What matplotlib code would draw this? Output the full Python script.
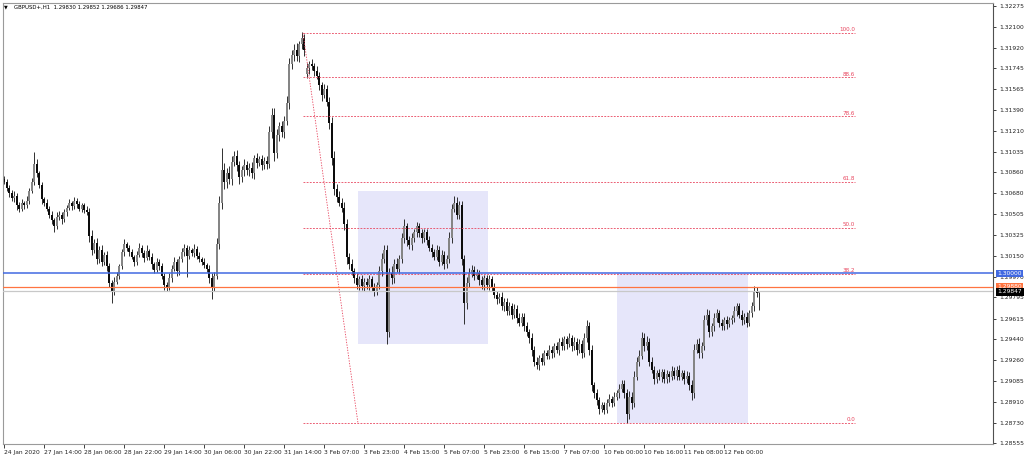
import matplotlib
matplotlib.use("Agg")
import matplotlib.pyplot as plt
from matplotlib.patches import Rectangle

# --- data (GBPUSD, H1, 24 Jan - 12 Feb 2020) ---
TITLE = "GBPUSD+,H1  1.29830 1.29852 1.29686 1.29847"

FIRST_OPEN = 1.3080
GAP_OPENS = {121: 1.3170}  # Monday open gap

CLOSE = [
    # 24 Jan
    1.3078, 1.3073,
    # 27 Jan
    1.3068, 1.3064, 1.3066, 1.3058, 1.3055, 1.3060, 1.3058, 1.3062, 1.3070, 1.3078, 1.3093, 1.3085,
    1.3075, 1.3063, 1.3060, 1.3055, 1.3050, 1.3045, 1.3040, 1.3048, 1.3050, 1.3046, 1.3052, 1.3056,
    # 28 Jan
    1.3060, 1.3057, 1.3062, 1.3059, 1.3055, 1.3058, 1.3054, 1.3052, 1.3032, 1.3020, 1.3026, 1.3012,
    1.3020, 1.3010, 1.3016, 1.3006, 1.2992, 1.2985, 1.2993, 1.2998, 1.3006, 1.3018, 1.3025, 1.3022,
    # 29 Jan
    1.3018, 1.3014, 1.3010, 1.3016, 1.3022, 1.3017, 1.3013, 1.3019, 1.3014, 1.3008, 1.3003, 1.3010,
    1.3006, 1.2998, 1.2990, 1.2988, 1.2996, 1.3004, 1.3010, 1.3002, 1.3012, 1.3018, 1.3022, 1.3015,
    # 30 Jan
    1.3020, 1.3017, 1.3021, 1.3015, 1.3012, 1.3010, 1.3007, 1.3004, 1.2996, 1.2988, 1.2998, 1.3025,
    1.3060, 1.3088, 1.3078, 1.3085, 1.3080, 1.3095, 1.3100, 1.3092, 1.3082, 1.3088, 1.3092, 1.3088,
    # 31 Jan
    1.3090, 1.3085, 1.3098, 1.3094, 1.3097, 1.3092, 1.3096, 1.3093, 1.3120, 1.3135, 1.3102, 1.3118,
    1.3125, 1.3120, 1.3130, 1.3145, 1.3178, 1.3186, 1.3190, 1.3185, 1.3195, 1.3200, 1.3190,
    # 3 Feb
    1.3175, 1.3178, 1.3176, 1.3172, 1.3168, 1.3160, 1.3152, 1.3157, 1.3146, 1.3128, 1.3098, 1.3072,
    1.3065, 1.3060, 1.3056, 1.3042, 1.3014, 1.3008, 1.3002, 1.2996, 1.2990, 1.2995, 1.2989, 1.2993,
    # 4 Feb
    1.2990, 1.2995, 1.2988, 1.2985, 1.2990, 1.3002, 1.3012, 1.3020, 1.2950, 1.3000, 1.2996, 1.3008,
    1.3004, 1.3012, 1.3030, 1.3040, 1.3028, 1.3024, 1.3030, 1.3035, 1.3040, 1.3034, 1.3030, 1.3035,
    # 5 Feb
    1.3028, 1.3022, 1.3018, 1.3014, 1.3020, 1.3010, 1.3016, 1.3008, 1.3012, 1.3030, 1.3055, 1.3060,
    1.3050, 1.3058, 1.3012, 1.2975, 1.2992, 1.3000, 1.3003, 1.2998, 1.3000, 1.2994, 1.2990, 1.2996,
    # 6 Feb
    1.2990, 1.2995, 1.2988, 1.2982, 1.2978, 1.2980, 1.2972, 1.2976, 1.2968, 1.2972, 1.2965, 1.2970,
    1.2962, 1.2958, 1.2963, 1.2955, 1.2950, 1.2945, 1.2935, 1.2925, 1.2922, 1.2928, 1.2925, 1.2932,
    # 7 Feb
    1.2930, 1.2935, 1.2932, 1.2938, 1.2935, 1.2942, 1.2938, 1.2944, 1.2940, 1.2945, 1.2938, 1.2942,
    1.2935, 1.2940, 1.2932, 1.2945, 1.2955, 1.2935, 1.2905, 1.2898, 1.2892, 1.2885, 1.2888,
    # 10 Feb
    1.2884, 1.2890, 1.2893, 1.2890, 1.2895, 1.2898, 1.2902, 1.2906, 1.2898, 1.2880, 1.2895, 1.2890,
    1.2912, 1.2925, 1.2930, 1.2945, 1.2938, 1.2942, 1.2925, 1.2918, 1.2910, 1.2915, 1.2912, 1.2916,
    # 11 Feb
    1.2910, 1.2914, 1.2912, 1.2917, 1.2913, 1.2918, 1.2912, 1.2915, 1.2910, 1.2913, 1.2905, 1.2898,
    1.2935, 1.2940, 1.2932, 1.2938, 1.2960, 1.2965, 1.2950, 1.2955, 1.2962, 1.2966, 1.2958, 1.2955,
    # 12 Feb
    1.2960, 1.2957, 1.2960, 1.2962, 1.2968, 1.2972, 1.2965, 1.2960, 1.2963, 1.2958, 1.2966, 1.2972,
    1.2985, 1.2983, 1.29847,
]

# wick lengths above / below the body, in pips
WICK_UP = [
    3, 2,
    2, 3, 4, 2, 3, 3, 2, 4, 3, 3, 10, 4, 2, 3, 2, 3, 2, 3, 2, 4, 3, 2, 3, 2,
    3, 2, 3, 2, 3, 2, 2, 3, 4, 5, 3, 4, 3, 4, 2, 3, 3, 2, 4, 3, 2, 3, 4, 2,
    2, 3, 2, 3, 4, 2, 3, 5, 2, 3, 2, 3, 2, 3, 2, 3, 4, 3, 4, 2, 3, 4, 3, 2,
    3, 2, 4, 2, 3, 2, 3, 2, 3, 4, 3, 5, 6, 19, 6, 5, 6, 5, 4, 5, 4, 3, 5, 4,
    4, 5, 3, 4, 3, 4, 3, 4, 5, 6, 6, 5, 4, 5, 4, 6, 5, 4, 5, 6, 3, 5, 4,
    4, 3, 4, 3, 4, 3, 3, 4, 3, 4, 5, 6, 4, 5, 4, 5, 4, 3, 4, 3, 4, 3, 4, 3,
    3, 4, 3, 4, 3, 4, 5, 4, 4, 5, 6, 4, 5, 4, 4, 6, 3, 4, 4, 3, 4, 3, 4, 3,
    3, 4, 3, 3, 4, 3, 4, 3, 4, 5, 4, 6, 5, 4, 4, 4, 5, 5, 4, 3, 4, 3, 4, 3,
    3, 4, 3, 4, 3, 3, 4, 3, 3, 4, 3, 4, 3, 4, 3, 3, 4, 3, 4, 3, 4, 3, 4, 3,
    3, 4, 3, 3, 4, 3, 4, 3, 3, 4, 3, 4, 3, 4, 3, 4, 5, 4, 4, 3, 4, 3, 3,
    3, 3, 4, 3, 4, 3, 4, 3, 3, 4, 5, 4, 5, 4, 5, 5, 4, 5, 3, 4, 3, 3, 4, 3,
    3, 4, 3, 4, 3, 3, 4, 3, 3, 4, 3, 4, 5, 4, 5, 4, 5, 5, 4, 3, 4, 4, 3, 3,
    3, 4, 3, 3, 4, 3, 3, 4, 3, 4, 3, 4, 4, 3, 0.5,
]
WICK_DN = [
    2, 3,
    3, 2, 3, 4, 3, 2, 3, 2, 3, 2, 3, 3, 2, 4, 3, 2, 3, 3, 5, 2, 3, 4, 2, 3,
    2, 3, 2, 3, 2, 3, 3, 2, 5, 4, 3, 4, 3, 4, 3, 4, 4, 10, 3, 2, 3, 2, 3, 3,
    3, 2, 4, 3, 2, 3, 3, 2, 3, 4, 3, 2, 3, 3, 4, 3, 2, 3, 2, 4, 3, 2, 3, 18,
    3, 2, 3, 3, 2, 3, 2, 3, 4, 10, 3, 3, 4, 5, 6, 5, 4, 5, 4, 5, 6, 4, 5, 4,
    5, 4, 5, 4, 3, 4, 3, 4, 3, 5, 6, 4, 5, 4, 5, 4, 5, 4, 5, 4, 5, 4, 5,
    4, 5, 3, 4, 3, 4, 5, 3, 4, 5, 6, 5, 4, 3, 4, 5, 6, 4, 3, 4, 3, 4, 3, 4,
    3, 4, 3, 4, 3, 3, 4, 3, 10, 4, 5, 4, 3, 4, 3, 4, 5, 3, 4, 3, 4, 3, 4, 3,
    4, 3, 4, 3, 3, 4, 3, 4, 3, 3, 4, 3, 4, 4, 5, 18, 5, 4, 3, 4, 3, 4, 3, 4,
    3, 4, 3, 3, 4, 3, 3, 4, 3, 3, 4, 3, 4, 3, 3, 4, 3, 4, 5, 4, 3, 4, 3, 3,
    3, 3, 4, 3, 3, 4, 3, 3, 4, 3, 4, 3, 4, 3, 4, 3, 3, 4, 5, 4, 4, 5, 3,
    4, 3, 3, 4, 3, 3, 4, 3, 4, 7, 4, 5, 4, 3, 4, 3, 4, 3, 4, 3, 4, 3, 3, 4,
    3, 3, 4, 3, 3, 4, 3, 3, 4, 3, 4, 6, 4, 3, 4, 4, 3, 4, 4, 3, 4, 3, 4, 3,
    3, 4, 3, 3, 3, 4, 3, 4, 3, 4, 3, 3, 4, 3, 14.4,
]

TIME_LABELS = [
    "24 Jan 2020", "27 Jan 14:00", "28 Jan 06:00", "28 Jan 22:00", "29 Jan 14:00",
    "30 Jan 06:00", "30 Jan 22:00", "31 Jan 14:00", "3 Feb 07:00", "3 Feb 23:00",
    "4 Feb 15:00", "5 Feb 07:00", "5 Feb 23:00", "6 Feb 15:00", "7 Feb 07:00",
    "10 Feb 00:00", "10 Feb 16:00", "11 Feb 08:00", "12 Feb 00:00",
]
BARS_PER_LABEL = 16

PRICE_TICKS = [
    1.32275, 1.32100, 1.31920, 1.31745, 1.31565, 1.31390, 1.31210, 1.31035,
    1.30860, 1.30680, 1.30505, 1.30325, 1.30150, 1.29970, 1.29795, 1.29615,
    1.29440, 1.29260, 1.29085, 1.28910, 1.28730, 1.28555,
]

FIB_HIGH = 1.32046
FIB_LOW = 1.28725
FIB_LEVELS = [0.0, 38.2, 50.0, 61.8, 78.6, 88.6, 100.0]

# (first bar, last bar, low price, high price)
ZONES = [(141.5, 193.5, 1.2940, 1.3070), (245.0, 297.5, 1.28725, 1.30007)]

ROUND_LEVEL = 1.30000
ORANGE_LEVEL = 1.29880
BID = 1.29847

# --- styling ---
FONT = "DejaVu Sans"
FS = 4.3
BULL = "#858585"
BEAR = "#0c0c0c"
FIB_COLOR = "#e8455e"
ZONE_COLOR = "#e6e6fa"
BLUE = "#4169e1"
ORANGE = "#ff7440"

plt.rcParams["font.family"] = [FONT]

n = len(CLOSE)
opens = []
for i in range(n):
    if i == 0:
        opens.append(FIRST_OPEN)
    else:
        opens.append(GAP_OPENS.get(i, CLOSE[i - 1]))
highs = [max(o, c) + u * 1e-4 for o, c, u in zip(opens, CLOSE, WICK_UP)]
lows = [min(o, c) - d * 1e-4 for o, c, d in zip(opens, CLOSE, WICK_DN)]

W, H = 1024, 459
fig = plt.figure(figsize=(W / 100, H / 100), dpi=100)
fig.patch.set_facecolor("white")
ax = fig.add_axes([3 / W, (H - 443.5) / H, 990 / W, 440.5 / H])
ax.set_xlim(-0.5, 395.5)
ax.set_ylim(1.28553, 1.32300)

# zones in the background
for x0, x1, p0, p1 in ZONES:
    ax.add_patch(Rectangle((x0, p0), x1 - x0, p1 - p0, facecolor=ZONE_COLOR,
                           edgecolor="none", zorder=0))

# candles
xs = list(range(n))
ax.vlines(xs, lows, highs, colors="#222222", linewidth=0.65, zorder=2)
bottoms = [min(o, c) for o, c in zip(opens, CLOSE)]
heights = [max(abs(c - o), 0.00003) for o, c in zip(opens, CLOSE)]
colors = [BULL if c >= o else BEAR for o, c in zip(opens, CLOSE)]
ax.bar(xs, heights, bottom=bottoms, width=0.74, color=colors, linewidth=0, zorder=2)

# fibonacci retracement
fib_x0, fib_x1, fib_diag = 119.5, 340.3, 141.5
for lvl in FIB_LEVELS:
    p = FIB_LOW + (FIB_HIGH - FIB_LOW) * lvl / 100
    ax.plot([fib_x0, fib_x1], [p, p], color=FIB_COLOR, lw=0.6,
            ls=(0, (2.2, 1.6)), zorder=3)
    ax.annotate(f"{lvl:.1f}", (fib_x1, p), xytext=(0, 0.6), textcoords="offset points",
                ha="right", va="bottom", fontsize=FS - 0.2, color=FIB_COLOR, zorder=3)
ax.plot([fib_x0, fib_diag], [FIB_HIGH, FIB_LOW], color=FIB_COLOR, lw=0.6,
        ls=(0, (1.6, 1.6)), zorder=3)

# horizontal lines
ax.axhline(BID, color="#c8c8c8", lw=0.9, zorder=3)
ax.axhline(ORANGE_LEVEL, color=ORANGE, lw=0.9, zorder=3)
ax.axhline(ROUND_LEVEL, color=BLUE, lw=1.1, zorder=3)

# axes / ticks
for side in ("top", "bottom", "left"):
    ax.spines[side].set_color("#9a9a9a")
    ax.spines[side].set_linewidth(0.8)
ax.spines["right"].set_color("#505050")
ax.spines["right"].set_linewidth(0.8)

ax.yaxis.tick_right()
ax.set_yticks(PRICE_TICKS)
ax.set_yticklabels([f"{p:.5f}" for p in PRICE_TICKS])
ax.tick_params(axis="y", direction="out", length=2.5, width=0.6, pad=1.8,
               labelsize=FS, colors="#202020")

tick_bars = [k * BARS_PER_LABEL for k in range(len(TIME_LABELS))]
ax.set_xticks(tick_bars)
ax.set_xticklabels(TIME_LABELS, ha="left")
ax.tick_params(axis="x", direction="out", length=3, width=0.6, pad=1.5,
               labelsize=FS, colors="#202020")

# price boxes on the right axis
ytr = ax.get_yaxis_transform()
box_x = 1 + 4.5 / 990
ax.text(box_x, ORANGE_LEVEL + 0.00006, f"{ORANGE_LEVEL:.5f}", transform=ytr, ha="left",
        va="center", fontsize=FS, color="white", zorder=5, clip_on=False,
        bbox=dict(boxstyle="square,pad=0.22", fc=ORANGE, ec="none"))
ax.text(box_x, BID - 0.00003, f"{BID:.5f}", transform=ytr, ha="left", va="center",
        fontsize=FS, color="white", zorder=6, clip_on=False,
        bbox=dict(boxstyle="square,pad=0.22", fc="black", ec="none"))
ax.text(box_x, ROUND_LEVEL, f"{ROUND_LEVEL:.5f}", transform=ytr, ha="left", va="center",
        fontsize=FS, color="white", zorder=6, clip_on=False,
        bbox=dict(boxstyle="square,pad=0.22", fc=BLUE, ec="none"))

# chart caption
fig.text(4 / W, 1 - 7 / H, "\u25bc", fontsize=3.5, va="center", ha="left", color="black")
fig.text(14 / W, 1 - 7 / H, TITLE, fontsize=3.9, va="center", ha="left", color="black")

fig.savefig("out.png", dpi=100, facecolor="white")
